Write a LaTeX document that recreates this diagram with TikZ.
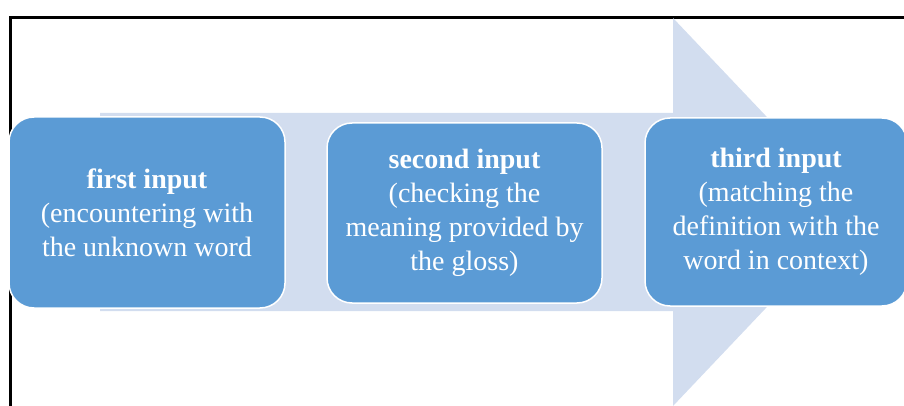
\documentclass[tikz,border=0pt]{standalone}
\usepackage{fontspec}
\setmainfont{Liberation Serif}
\definecolor{boxblue}{HTML}{5B9BD5}
\definecolor{lightarrow}{HTML}{D2DDEF}
\begin{document}
\begin{tikzpicture}[x=1pt,y=-1pt,
  stage/.style={fill=boxblue, draw=white, line width=1.5pt, rounded corners=25pt,
    text=white, align=center, font=\fontsize{28}{34}\selectfont, inner sep=0pt},
  frameline/.style={draw=black, line width=3pt}]
\useasboundingbox (0,0) rectangle (904,406);
\clip (0,0) rectangle (904,406);
% frame
\draw[frameline] (10.8,406) -- (10.8,17.5) -- (904,17.5);
% big light arrow
\fill[lightarrow] (100,113) -- (673,113) -- (673,18) -- (857,212) -- (673,406) -- (673,311) -- (100,311) -- cycle;
% stages
\node[stage, minimum width=276pt, minimum height=191pt] (s1) at (147,212.5)
  {\textbf{first input}\\(encountering with\\the unknown word};
\node[stage, minimum width=275pt, minimum height=180pt] (s2) at (464.5,213)
  {\textbf{second input}\\(checking the\\meaning provided by\\the gloss)};
\node[stage, minimum width=262pt, minimum height=188pt] (s3) at (776,212)
  {\textbf{third input}\\(matching the\\definition with the\\word in context)};
\end{tikzpicture}
\end{document}
